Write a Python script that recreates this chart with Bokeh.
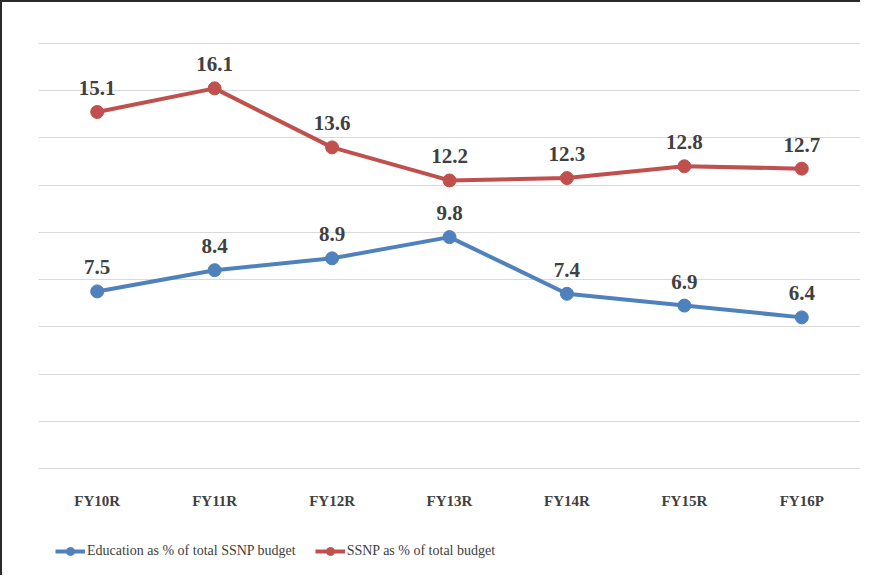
from bokeh.plotting import figure
from bokeh.models import ColumnDataSource, FactorRange, Range1d, FixedTicker, Legend, LegendItem
from bokeh.core.properties import value
from bokeh.embed import file_html
from bokeh.resources import INLINE

categories = ["FY10R", "FY11R", "FY12R", "FY13R", "FY14R", "FY15R", "FY16P"]
education_pct = [7.5, 8.4, 8.9, 9.8, 7.4, 6.9, 6.4]
ssnp_pct = [15.1, 16.1, 13.6, 12.2, 12.3, 12.8, 12.7]
y_ticks = [0, 2, 4, 6, 8, 10, 12, 14, 16, 18]
series_names = ["Education as % of total SSNP budget", "SSNP as % of total budget"]

BLUE = "#4F81BD"
RED = "#C0504D"
TEXT = "#404040"
FONT = "Liberation Serif"

# the frame reaches below zero so the category labels and the legend sit inside it
p = figure(width=860, height=575, x_range=FactorRange(*categories), y_range=Range1d(-4.617, 18.127),
           output_backend="svg", toolbar_location=None,
           min_border_left=36, min_border_right=2, min_border_top=38, min_border_bottom=0)
p.styles = {"border-left": "2px solid #2b2b2b", "border-top": "2px solid #2b2b2b"}
p.outline_line_color = None
p.background_fill_color = "white"
p.border_fill_color = "white"

p.yaxis.visible = False
p.xaxis.visible = False
p.xgrid.grid_line_color = None
p.ygrid.ticker = FixedTicker(ticks=y_ticks)
p.ygrid.grid_line_color = "#d9d9d9"
p.ygrid.grid_line_width = 1.2

# category labels placed under the zero line through the categorical scale
cat_src = ColumnDataSource(dict(x=categories, lab=categories))
p.text("x", 0, text="lab", source=cat_src, text_align="center", text_baseline="middle",
       y_offset=33, text_font=value(FONT), text_font_style="bold",
       text_font_size="15px", text_color=TEXT)

items = []
for vals, color, name in [(education_pct, BLUE, series_names[0]), (ssnp_pct, RED, series_names[1])]:
    src = ColumnDataSource(dict(x=categories, y=vals, lab=[f"{v}" for v in vals]))
    l = p.line("x", "y", source=src, line_color=color, line_width=4)
    s = p.scatter("x", "y", source=src, size=13, fill_color=color, line_color=color)
    p.text("x", "y", text="lab", source=src, text_align="center", text_baseline="alphabetic",
           y_offset=-24, text_font=value(FONT), text_font_style="bold",
           text_font_size="21px", text_color=TEXT)
    items.append(LegendItem(label=name, renderers=[l, s]))

legend = Legend(items=items, location=(17, 16), orientation="horizontal",
                glyph_width=30, glyph_height=20, label_height=20, label_standoff=2, spacing=19,
                label_text_font=FONT, label_text_font_size="14px", label_text_color=TEXT,
                background_fill_alpha=0, border_line_color=None, padding=0, margin=0)
p.add_layout(legend, "center")

open("out.html", "w").write(file_html(p, INLINE))
